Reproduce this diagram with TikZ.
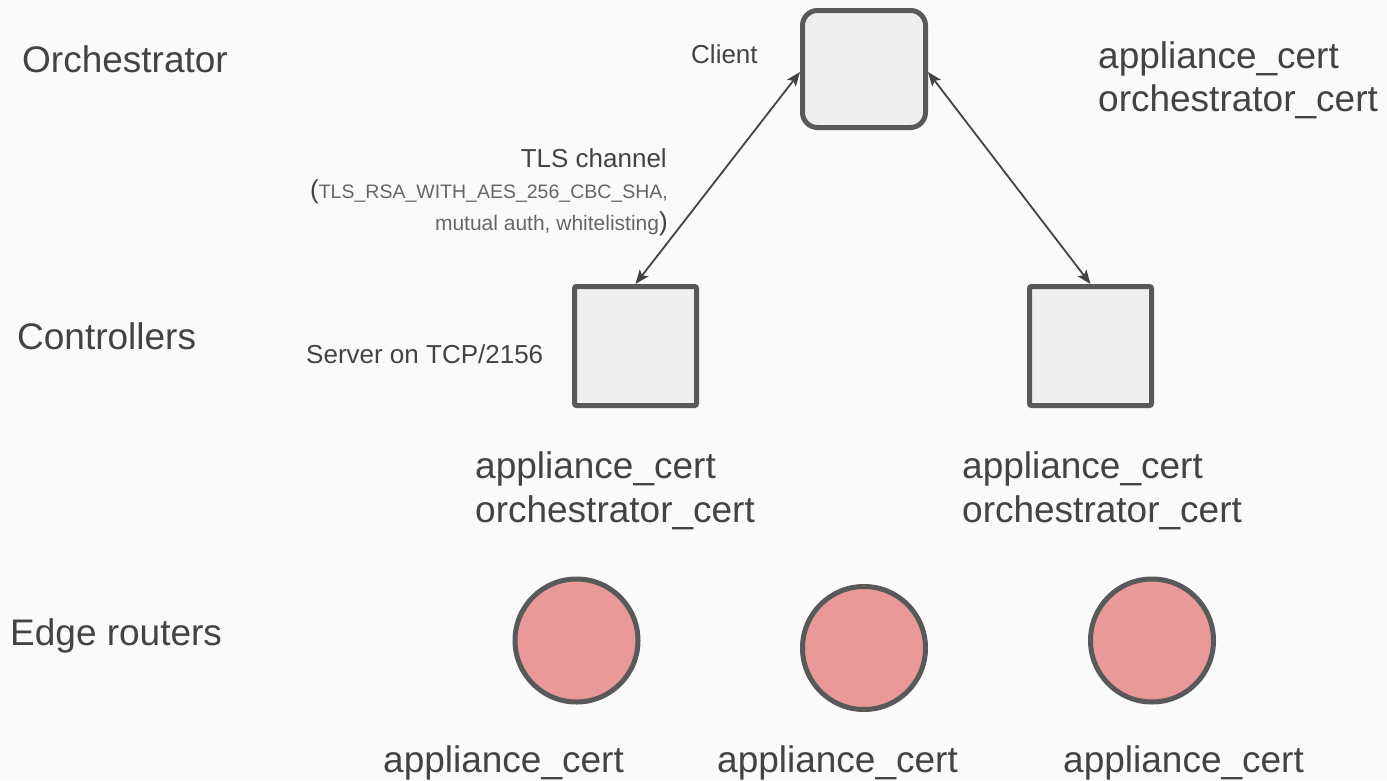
\documentclass[tikz,border=0pt]{standalone}
\usepackage{fontspec}
\setmainfont{Liberation Sans}
\usetikzlibrary{arrows.meta}
\definecolor{bg}{HTML}{FAFAFA}
\definecolor{txt}{HTML}{434343}
\definecolor{stroke}{HTML}{595959}
\definecolor{boxfill}{HTML}{EFEFEF}
\definecolor{nodered}{HTML}{EA9999}
\definecolor{smallgray}{HTML}{666666}
\newcommand{\bigtxt}{\fontsize{37}{44}\selectfont}
\newcommand{\midtxt}{\fontsize{26}{30}\selectfont}
\newcommand{\smalltxt}{\fontsize{19.5}{24}\selectfont}
\newcommand{\smalltxtb}{\fontsize{21}{24}\selectfont}
\tikzset{
  lbl/.style={anchor=base west, inner sep=0pt, text=txt},
  lblr/.style={anchor=base east, inner sep=0pt, text=txt},
  ctrlbox/.style={draw=stroke, fill=boxfill, line width=5pt, rounded corners=2pt, minimum width=122pt, minimum height=119pt, inner sep=0pt},
  clientbox/.style={draw=stroke, fill=boxfill, line width=5pt, rounded corners=15pt, minimum width=123pt, minimum height=117pt, inner sep=0pt},
  router/.style={circle, draw=stroke, fill=nodered, line width=5pt, minimum size=123pt, inner sep=0pt},
  tls/.style={draw=txt, line width=1.8pt, {Stealth[length=14pt,width=11pt,inset=3pt]}-{Stealth[length=14pt,width=11pt,inset=3pt]}}
}
\begin{document}
\begin{tikzpicture}[x=1pt,y=-1pt]
\fill[bg] (0,0) rectangle (1387,780);
\useasboundingbox (0,0) rectangle (1387,780);
% shapes
\node[clientbox] (client) at (864,69) {};
\node[ctrlbox] (ctrlL) at (635.5,346) {};
\node[ctrlbox] (ctrlR) at (1090.5,346) {};
\node[router] (r1) at (576.5,640.5) {};
\node[router] (r2) at (864,648) {};
\node[router] (r3) at (1152,640.5) {};
% connectors
\draw[tls] ([yshift=-3pt]client.west) -- (ctrlL.north);
\draw[tls] ([yshift=-3pt]client.east) -- (ctrlR.north);
% tier labels
\node[lbl] (tOrch) at (22,72) {\bigtxt Orchestrator};
\node[lbl] (tCtrl) at (17,349) {\bigtxt Controllers};
\node[lbl] (tEdge) at (10,645) {\bigtxt Edge routers};
% small labels
\node[lbl] (tClient) at (691,63) {\midtxt Client};
\node[lbl] (tServer) at (306,363) {\midtxt Server on TCP/2156};
\node[lblr] (tTls1) at (667,167) {\midtxt TLS channel};
\node[lblr] (tTls2) at (668,198) {\midtxt(\textcolor{smallgray}{\smalltxt TLS\_RSA\_WITH\_AES\_256\_CBC\_SHA,}};
\node[lblr] (tTls3) at (668,230) {\textcolor{smallgray}{\smalltxtb mutual auth, whitelisting}\midtxt)};
% cert labels
\node[lbl] (cO1) at (1098,68) {\bigtxt appliance\_cert};
\node[lbl] (cO2) at (1098,111) {\bigtxt orchestrator\_cert};
\node[lbl] (cL1) at (475,478) {\bigtxt appliance\_cert};
\node[lbl] (cL2) at (475,522) {\bigtxt orchestrator\_cert};
\node[lbl] (cR1) at (962,478) {\bigtxt appliance\_cert};
\node[lbl] (cR2) at (962,522) {\bigtxt orchestrator\_cert};
\node[lbl] (e1) at (383,772) {\bigtxt appliance\_cert};
\node[lbl] (e2) at (717,772) {\bigtxt appliance\_cert};
\node[lbl] (e3) at (1063,772) {\bigtxt appliance\_cert};
\end{tikzpicture}
\end{document}
